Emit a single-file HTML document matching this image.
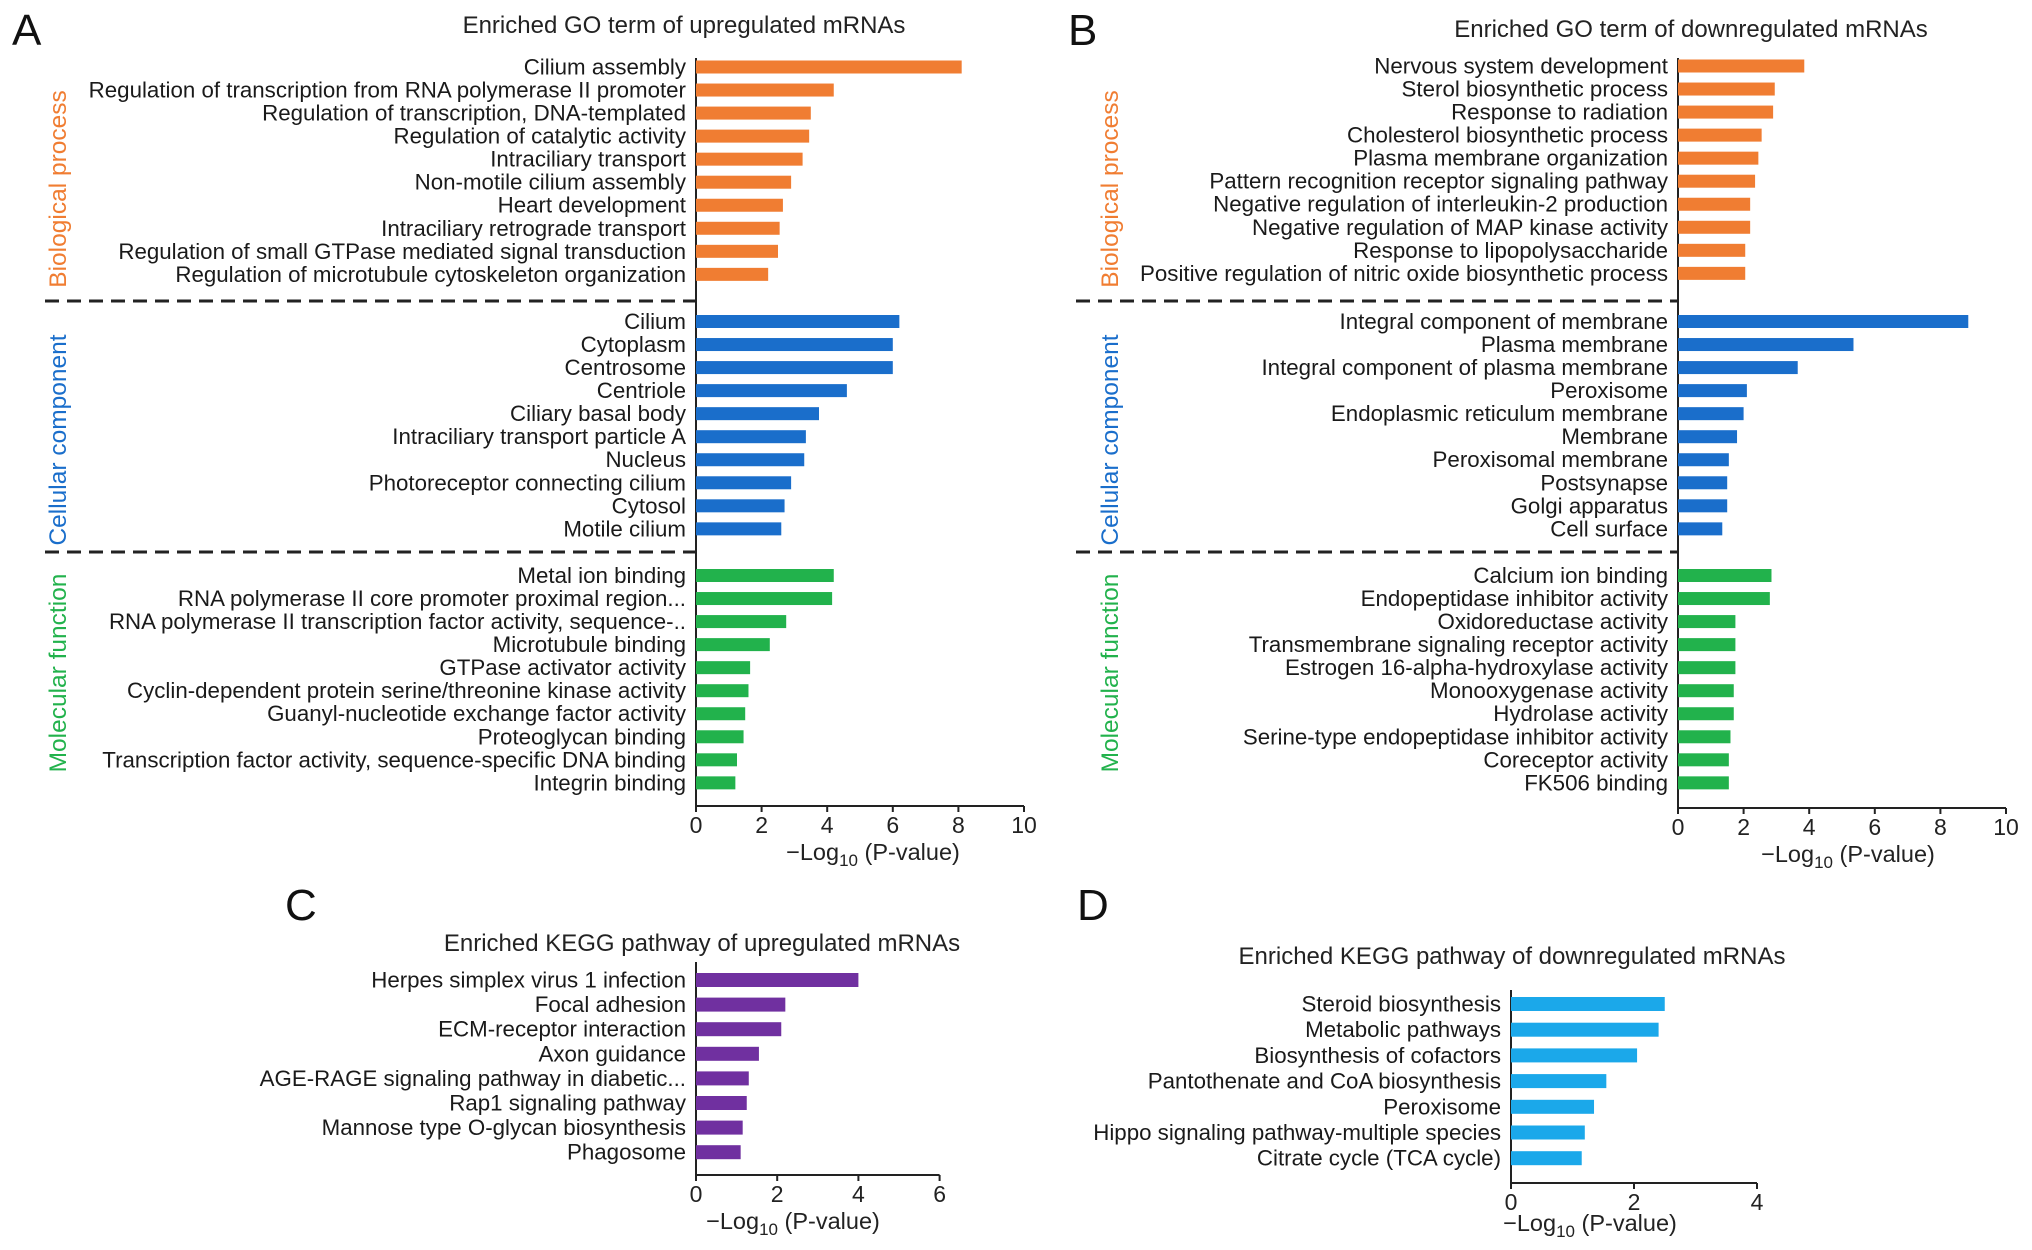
<!DOCTYPE html>
<html><head><meta charset="utf-8"><style>
html,body{margin:0;padding:0;background:#fff;}
svg{display:block;font-family:"Liberation Sans",Arial,sans-serif;}
</style></head><body>
<svg id="fig" width="2032" height="1250" viewBox="0 0 2032 1250" xmlns="http://www.w3.org/2000/svg"></svg>
<script>
// Panel A data
const aBPLabels=["Cilium assembly","Regulation of transcription from RNA polymerase II promoter","Regulation of transcription, DNA-templated","Regulation of catalytic activity","Intraciliary transport","Non-motile cilium assembly","Heart development","Intraciliary retrograde transport","Regulation of small GTPase mediated signal transduction","Regulation of microtubule cytoskeleton organization"];
const aBPValues=[8.1,4.2,3.5,3.45,3.25,2.9,2.65,2.55,2.5,2.2];
const aCCLabels=["Cilium","Cytoplasm","Centrosome","Centriole","Ciliary basal body","Intraciliary transport particle A","Nucleus","Photoreceptor connecting cilium","Cytosol","Motile cilium"];
const aCCValues=[6.2,6.0,6.0,4.6,3.75,3.35,3.3,2.9,2.7,2.6];
const aMFLabels=["Metal ion binding","RNA polymerase II core promoter proximal region...","RNA polymerase II transcription factor activity, sequence-..","Microtubule binding","GTPase activator activity","Cyclin-dependent protein serine/threonine kinase activity","Guanyl-nucleotide exchange factor activity","Proteoglycan binding","Transcription factor activity, sequence-specific DNA binding","Integrin binding"];
const aMFValues=[4.2,4.15,2.75,2.25,1.65,1.6,1.5,1.45,1.25,1.2];
// Panel B data
const bBPLabels=["Nervous system development","Sterol biosynthetic process","Response to radiation","Cholesterol biosynthetic process","Plasma membrane organization","Pattern recognition receptor signaling pathway","Negative regulation of interleukin-2 production","Negative regulation of MAP kinase activity","Response to lipopolysaccharide","Positive regulation of nitric oxide biosynthetic process"];
const bBPValues=[3.85,2.95,2.9,2.55,2.45,2.35,2.2,2.2,2.05,2.05];
const bCCLabels=["Integral component of membrane","Plasma membrane","Integral component of plasma membrane","Peroxisome","Endoplasmic reticulum membrane","Membrane","Peroxisomal membrane","Postsynapse","Golgi apparatus","Cell surface"];
const bCCValues=[8.85,5.35,3.65,2.1,2.0,1.8,1.55,1.5,1.5,1.35];
const bMFLabels=["Calcium ion binding","Endopeptidase inhibitor activity","Oxidoreductase activity","Transmembrane signaling receptor activity","Estrogen 16-alpha-hydroxylase activity","Monooxygenase activity","Hydrolase activity","Serine-type endopeptidase inhibitor activity","Coreceptor activity","FK506 binding"];
const bMFValues=[2.85,2.8,1.75,1.75,1.75,1.7,1.7,1.6,1.55,1.55];
// Panel C data
const cLabels=["Herpes simplex virus 1 infection","Focal adhesion","ECM-receptor interaction","Axon guidance","AGE-RAGE signaling pathway in diabetic...","Rap1 signaling pathway","Mannose type O-glycan biosynthesis","Phagosome"];
const cValues=[4.0,2.2,2.1,1.55,1.3,1.25,1.15,1.1];
// Panel D data
const dLabels=["Steroid biosynthesis","Metabolic pathways","Biosynthesis of cofactors","Pantothenate and CoA biosynthesis","Peroxisome","Hippo signaling pathway-multiple species","Citrate cycle (TCA cycle)"];
const dValues=[2.5,2.4,2.05,1.55,1.35,1.2,1.15];
const goTicks=["0","2","4","6","8","10"];
const cTicks=["0","2","4","6"];
const dTicks=["0","2","4"];

const NS="http://www.w3.org/2000/svg";
const svg=document.getElementById('fig');
function mk(tag,attrs,parent,text){const e=document.createElementNS(NS,tag);for(const k in attrs)e.setAttribute(k,attrs[k]);if(text!==undefined)e.textContent=text;(parent||svg).appendChild(e);return e;}

function drawAxis(g,x0,perUnit,yTop,yAxis,ticks,labelX,labelY){
  const maxV=+ticks[ticks.length-1];
  const xs=v=>x0+v*perUnit;
  let l=mk('line',{x1:x0,y1:yTop,x2:x0,y2:yAxis,stroke:'#222','stroke-width':2},g);
  
  l=mk('line',{x1:x0,y1:yAxis,x2:xs(maxV),y2:yAxis,stroke:'#222','stroke-width':2},g);
  
  ticks.forEach(t=>{
    const tx=xs(+t);
    const tk=mk('line',{x1:tx,y1:yAxis,x2:tx,y2:yAxis+6,stroke:'#222','stroke-width':2},g);
    
    const tl=mk('text',{x:tx,y:yAxis+27,'font-size':23,'text-anchor':'middle',fill:'#222'},g,t);
    
  });
  const at=mk('text',{x:labelX,y:labelY,'font-size':23.5,'text-anchor':'middle',fill:'#222'},g);
  
  mk('tspan',{},at,'\u2212Log');
  mk('tspan',{'font-size':17,dy:6},at,'10');
  mk('tspan',{dy:-6},at,' (P-value)');
  return xs;
}
function drawBars(g,labels,values,xs,x0,yStart,pitch,h,color,fs){
  values.forEach((v,i)=>{
    const y=yStart+i*pitch;
    const r=mk('rect',{x:x0,y:y-h/2,width:xs(v)-x0,height:h,fill:color},g);
    
    const t=mk('text',{x:x0-10,y:y+7.5,'font-size':fs,'text-anchor':'end',fill:'#1a1a1a'},g,labels[i]);
    
  });
}
function groupLabel(g,text,x,y,color){
  const t=mk('text',{x:x,y:y,'font-size':24.5,'text-anchor':'middle',fill:color,transform:`rotate(-90 ${x} ${y})`},g,text);
  
}
function dash(g,x1,x2,y){
  const d=mk('line',{x1:x1,y1:y,x2:x2,y2:y,stroke:'#222','stroke-width':3,'stroke-dasharray':'14 8'},g);
  
}
function title(g,text,x,y){const t=mk('text',{x:x,y:y,'font-size':24,'text-anchor':'middle',fill:'#222'},g,text);}
function letter(g,text,x,y){const t=mk('text',{x:x,y:y,'font-size':44,fill:'#111'},g,text);}

const OR='#f07d32',BL='#1a6ecb',GR='#22b24c',PU='#7030a0',LB='#1ba8ea';
const pitch=23.04,bh=13,FS=22.3;
// Panel A
let g=mk('g',{});
letter(g,'A',12,45);title(g,'Enriched GO term of upregulated mRNAs',684,33);
let xs=drawAxis(g,696,32.8,58,806,goTicks,873,860);
drawBars(g,aBPLabels,aBPValues,xs,696,67,pitch,bh,OR,FS);
drawBars(g,aCCLabels,aCCValues,xs,696,321.5,pitch,bh,BL,FS);
drawBars(g,aMFLabels,aMFValues,xs,696,575.5,pitch,bh,GR,FS);
dash(g,45,696,301);dash(g,45,696,552);
groupLabel(g,'Biological process',66,189,OR);groupLabel(g,'Cellular component',66,440,BL);groupLabel(g,'Molecular function',66,673,GR);
// Panel B
g=mk('g',{});
letter(g,'B',1068,45);title(g,'Enriched GO term of downregulated mRNAs',1691,37);
xs=drawAxis(g,1678,32.8,58,808,goTicks,1848,862);
drawBars(g,bBPLabels,bBPValues,xs,1678,66,pitch,bh,OR,FS);
drawBars(g,bCCLabels,bCCValues,xs,1678,321.5,pitch,bh,BL,FS);
drawBars(g,bMFLabels,bMFValues,xs,1678,575.5,pitch,bh,GR,FS);
dash(g,1076,1678,301);dash(g,1076,1678,552);
groupLabel(g,'Biological process',1118,189,OR);groupLabel(g,'Cellular component',1118,440,BL);groupLabel(g,'Molecular function',1118,673,GR);
// Panel C
g=mk('g',{});
letter(g,'C',285,920);title(g,'Enriched KEGG pathway of upregulated mRNAs',702,951);
xs=drawAxis(g,696,40.6,962,1175,cTicks,793,1229);
drawBars(g,cLabels,cValues,xs,696,980,24.6,14,PU,FS);
// Panel D
g=mk('g',{});
letter(g,'D',1077,920);title(g,'Enriched KEGG pathway of downregulated mRNAs',1512,964);
xs=drawAxis(g,1511,61.5,990,1183,dTicks,1590,1231);
drawBars(g,dLabels,dValues,xs,1511,1004,25.7,14,LB,FS);
</script>
</body></html>
